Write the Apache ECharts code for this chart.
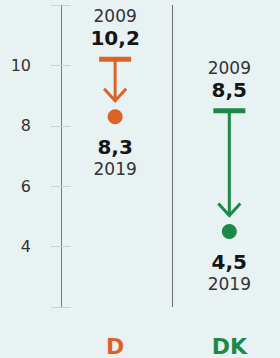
<!DOCTYPE html>
<html>
<head>
<meta charset="utf-8">
<script src="https://cdn.jsdelivr.net/npm/echarts@6/dist/echarts.min.js"></script>
<style>
  html, body { margin: 0; padding: 0; background: #e8f2f3; }
  #chart { width: 280px; height: 358px; }
</style>
</head>
<body>
<div id="chart"></div>
<script>
var countries = ["D", "DK"];
var values2009 = [10.2, 8.5];
var values2019 = [8.3, 4.5];
var startYear = "2009";
var endYear = "2019";
var yTicks = [4, 6, 8, 10];
var colors = ["#dd6228", "#1b8a46"];

var fontFamily = "DejaVu Sans";

function fmt(v) {
  return String(v).replace(".", ",");
}

function renderItem(params, api) {
  var i = api.value(0);
  var top = api.coord([i, api.value(1)]);
  var end = api.coord([i, api.value(2)]);
  var x = top[0], y0 = top[1], y1 = end[1];
  var c = colors[params.dataIndex];
  var tip = y1 - 16;
  var textBase = { align: "center", verticalAlign: "middle", fontFamily: fontFamily };
  return {
    type: "group",
    children: [
      { type: "rect", shape: { x: x - 16, y: y0 - 2.5, width: 32, height: 5 }, style: { fill: c } },
      { type: "line", shape: { x1: x, y1: y0, x2: x, y2: tip }, style: { stroke: c, lineWidth: 3 } },
      { type: "polyline", shape: { points: [[x - 11, tip - 12], [x, tip], [x + 11, tip - 12]] },
        style: { stroke: c, lineWidth: 3, fill: "none" } },
      { type: "circle", shape: { cx: x, cy: y1, r: 7.5 }, style: { fill: c } },
      { type: "text", x: x, y: y0 - 43,
        style: Object.assign({ text: startYear, fill: "#333", fontSize: 17 }, textBase) },
      { type: "text", x: x, y: y0 - 21,
        style: Object.assign({ text: fmt(api.value(1)), fill: "#151515", fontSize: 20, fontWeight: "bold" }, textBase) },
      { type: "text", x: x, y: y1 + 30,
        style: Object.assign({ text: fmt(api.value(2)), fill: "#151515", fontSize: 20, fontWeight: "bold" }, textBase) },
      { type: "text", x: x, y: y1 + 52,
        style: Object.assign({ text: endYear, fill: "#333", fontSize: 17 }, textBase) }
    ]
  };
}

var chart = echarts.init(document.getElementById("chart"), null, { renderer: "svg" });

var option = {
  backgroundColor: "#e8f2f3",
  animation: false,
  grid: { left: 61, right: 5, top: 5, bottom: 51 },
  xAxis: {
    type: "value",
    min: -0.474,
    max: 1.4,
    axisLine: { show: false },
    axisTick: { show: false },
    splitLine: { show: false },
    axisLabel: {
      customValues: [0, 1],
      margin: 28,
      fontFamily: fontFamily,
      formatter: function (v) {
        var i = Math.round(v);
        return "{c" + i + "|" + countries[i] + "}";
      },
      rich: {
        c0: { color: colors[0], fontSize: 22, fontWeight: "bold", fontFamily: fontFamily },
        c1: { color: colors[1], fontSize: 22, fontWeight: "bold", fontFamily: fontFamily }
      }
    }
  },
  yAxis: [
    {
      type: "value",
      min: 2,
      max: 12,
      interval: 2,
      axisLine: { show: true, onZero: false, lineStyle: { color: "#7a7a7a", width: 1 } },
      axisTick: { show: true, length: 10, lineStyle: { color: "#c9d2d4" } },
      splitLine: { show: false },
      axisLabel: {
        margin: 30,
        color: "#333",
        fontSize: 16,
        fontFamily: fontFamily,
        formatter: function (v) {
          return yTicks.indexOf(v) >= 0 ? String(v) : "";
        }
      }
    },
    {
      type: "value",
      position: "left",
      min: 2,
      max: 12,
      interval: 2,
      axisLine: { show: false, onZero: false },
      axisTick: { show: true, inside: true, length: 10, lineStyle: { color: "#c9d2d4" } },
      axisLabel: { show: false },
      splitLine: { show: false }
    }
  ],
  series: [
    {
      type: "custom",
      renderItem: renderItem,
      encode: { x: 0, y: [1, 2] },
      data: countries.map(function (c, i) { return [i, values2009[i], values2019[i]]; }),
      markLine: {
        silent: true,
        symbol: "none",
        label: { show: false },
        lineStyle: { color: "#6e6e6e", width: 1, type: "solid" },
        data: [{ xAxis: 0.5 }]
      }
    }
  ]
};

chart.setOption(option);
</script>
</body>
</html>
